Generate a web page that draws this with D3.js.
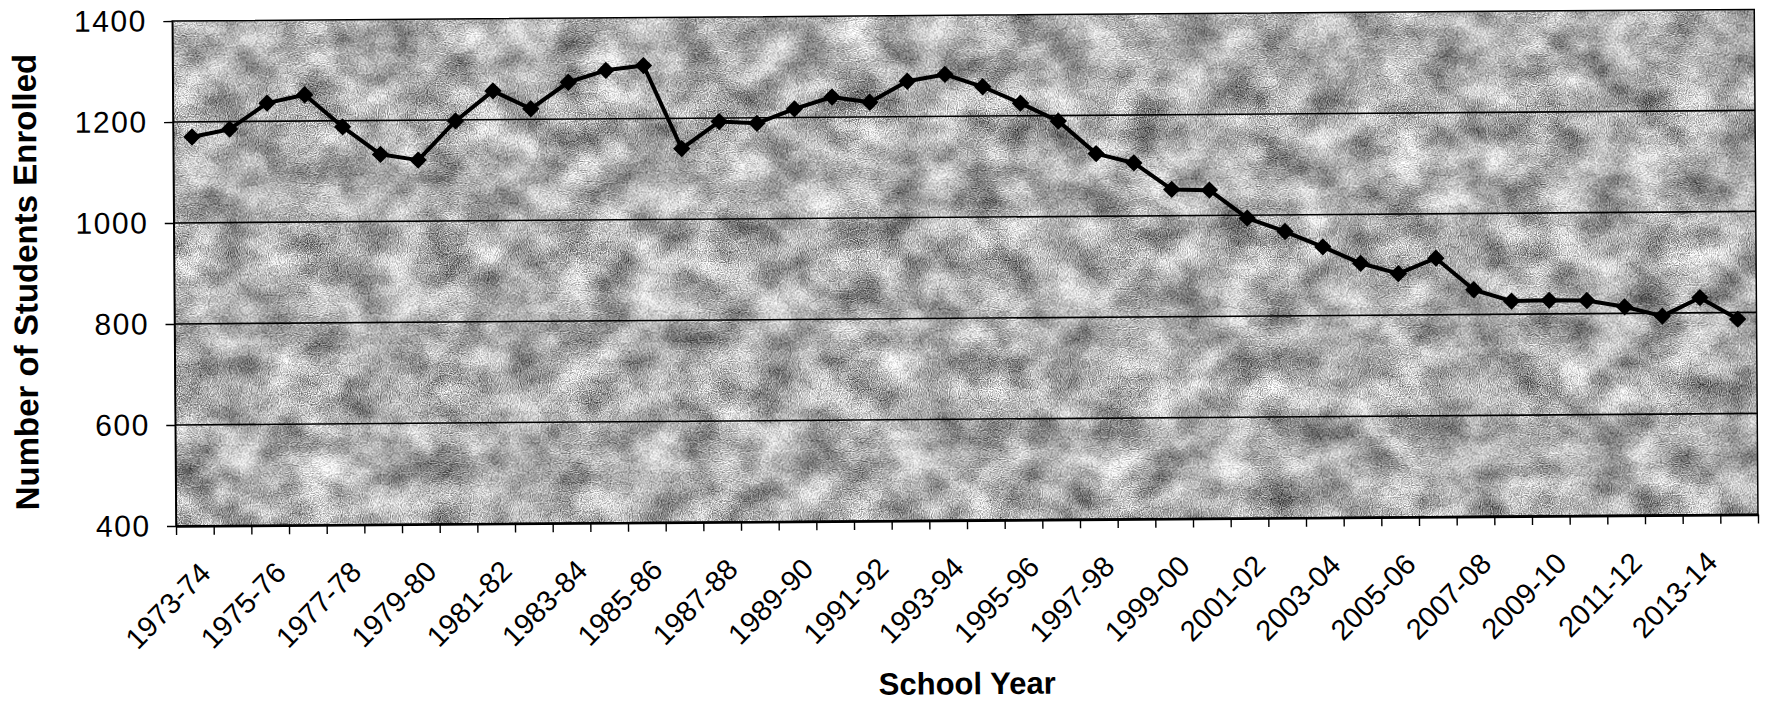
<!DOCTYPE html>
<meta charset="utf-8">
<style>
body {
  margin: 0;
  background-color: #fff;
}
svg { display: block; }

.axis text {
  font-family: "Liberation Sans", Arial, sans-serif;
  font-size: 29px;
  fill: #000;
}
.axis--y text {
  font-size: 30px;
  letter-spacing: 1.5px;
}
.axis path,
.axis line {
  fill: none;
  stroke: #000;
  stroke-width: 1.4px;
}
.axis--x .domain { stroke-width: 2.6px; }

.grid line {
  stroke: #000;
  stroke-width: 1.6px;
}

.line {
  fill: none;
  stroke: #000;
  stroke-width: 4px;
  stroke-linejoin: round;
}

.title {
  font-family: "Liberation Sans", Arial, sans-serif;
  font-weight: bold;
  fill: #000;
}
</style>
<body>
<svg width="1766" height="705"></svg>

<script src="https://cdnjs.cloudflare.com/ajax/libs/d3/7.8.5/d3.min.js"></script>
<script>

var schoolYears = ["1973-74","1974-75","1975-76","1976-77","1977-78","1978-79","1979-80",
  "1980-81","1981-82","1982-83","1983-84","1984-85","1985-86","1986-87","1987-88",
  "1988-89","1989-90","1990-91","1991-92","1992-93","1993-94","1994-95","1995-96",
  "1996-97","1997-98","1998-99","1999-00","2000-01","2001-02","2002-03","2003-04",
  "2004-05","2005-06","2006-07","2007-08","2008-09","2009-10","2010-11","2011-12",
  "2012-13","2013-14","2014-15"];

var enrolled = [1170, 1185, 1236, 1252, 1188, 1133, 1121, 1198, 1257, 1221,
  1273, 1296, 1305, 1140, 1193, 1189, 1217, 1240, 1229, 1270,
  1283, 1258, 1225, 1189, 1124, 1105, 1052, 1050, 994, 967,
  936, 903, 882, 912, 849, 826, 827, 826, 813, 794,
  830, 787];

var xLabels = ["1973-74","1975-76","1977-78","1979-80","1981-82","1983-84","1985-86",
  "1987-88","1989-90","1991-92","1993-94","1995-96","1997-98","1999-00","2001-02",
  "2003-04","2005-06","2007-08","2009-10","2011-12","2013-14"];

var yTicks = [400, 600, 800, 1000, 1200, 1400];
var gridTicks = [600, 800, 1000, 1200];

var margin = {top: 21, right: 8, bottom: 179, left: 176},
    width = 1766 - margin.left - margin.right,
    height = 705 - margin.top - margin.bottom;

var data = schoolYears.map(function(d, i) { return {year: d, value: enrolled[i]}; });

var x = d3.scaleBand().domain(schoolYears).range([0, width]);
var xEdge = d3.scaleLinear().domain([0, schoolYears.length]).range([0, width]);
var y = d3.scaleLinear().domain([400, 1400]).range([height, 0]);

var svg = d3.select("svg");

// scanned-paper look of the plot area
var defs = svg.append("defs");
var f = defs.append("filter")
  .attr("id", "mottle")
  .attr("x", 0).attr("y", 0).attr("width", 1).attr("height", 1)
  .attr("color-interpolation-filters", "sRGB");
f.append("feTurbulence")
  .attr("type", "fractalNoise")
  .attr("baseFrequency", "0.024 0.03")
  .attr("numOctaves", 4)
  .attr("seed", 7)
  .attr("result", "big");
f.append("feColorMatrix")
  .attr("in", "big")
  .attr("type", "matrix")
  .attr("values", "0.8 0 0 0 0.29  0.8 0 0 0 0.29  0.8 0 0 0 0.29  0 0 0 0 1")
  .attr("result", "patch");
f.append("feTurbulence")
  .attr("type", "fractalNoise")
  .attr("baseFrequency", "0.9")
  .attr("numOctaves", 1)
  .attr("seed", 3)
  .attr("result", "fine");
f.append("feColorMatrix")
  .attr("in", "fine")
  .attr("type", "matrix")
  .attr("values", "1 0 0 0 0  1 0 0 0 0  1 0 0 0 0  0 0 0 0 1")
  .attr("result", "fineg");
f.append("feComposite")
  .attr("in", "patch")
  .attr("in2", "fineg")
  .attr("operator", "arithmetic")
  .attr("k1", 0).attr("k2", 1).attr("k3", 1.3).attr("k4", -0.66);

// the scan is tilted a little, pivot on the bottom-left corner of the plot
var chart = svg.append("g")
  .attr("transform", "rotate(-0.42," + margin.left + "," + (margin.top + height) + ")");

var g = chart.append("g")
  .attr("transform", "translate(" + margin.left + "," + margin.top + ")");

g.append("rect")
  .attr("width", width)
  .attr("height", height)
  .attr("fill", "#aaa")
  .attr("filter", "url(#mottle)");

g.append("g")
  .attr("class", "grid")
  .selectAll("line")
  .data(gridTicks)
  .enter().append("line")
  .attr("x1", 0)
  .attr("x2", width)
  .attr("y1", function(d) { return y(d); })
  .attr("y2", function(d) { return y(d); });

g.append("rect")
  .attr("width", width)
  .attr("height", height)
  .attr("fill", "none")
  .attr("stroke", "#000")
  .attr("stroke-width", 1.5);

// y axis
g.append("g")
  .attr("class", "axis axis--y")
  .call(d3.axisLeft(y).tickValues(yTicks).tickFormat(d3.format("d"))
    .tickSize(9).tickPadding(16.5).tickSizeOuter(0));

// boundary tick marks along the bottom
g.append("g")
  .attr("class", "axis axis--x")
  .attr("transform", "translate(0," + height + ")")
  .call(d3.axisBottom(xEdge).tickValues(d3.range(schoolYears.length + 1))
    .tickSize(9).tickSizeOuter(0).tickFormat(""));

// rotated category labels
var gX = g.append("g")
  .attr("class", "axis axis--labels")
  .attr("transform", "translate(0," + height + ")")
  .call(d3.axisBottom(x).tickValues(xLabels).tickSize(0).tickSizeOuter(0));
gX.select(".domain").remove();
gX.selectAll(".tick text")
  .attr("x", 0)
  .attr("y", 0)
  .attr("dy", "0.35em")
  .attr("transform", "translate(10,42) rotate(-45)")
  .style("text-anchor", "end");

// series
var line = d3.line()
  .x(function(d) { return x(d.year) + x.bandwidth() / 2; })
  .y(function(d) { return y(d.value); });

g.append("path")
  .datum(data)
  .attr("class", "line")
  .attr("d", line);

g.selectAll(".dot")
  .data(data)
  .enter().append("path")
  .attr("class", "dot")
  .attr("d", d3.symbol(d3.symbolSquare, 150))
  .attr("fill", "#000")
  .attr("transform", function(d) {
    return "translate(" + (x(d.year) + x.bandwidth() / 2) + "," + y(d.value) + ") rotate(45)";
  });

// axis titles
chart.append("text")
  .attr("class", "title")
  .style("font-size", "33px")
  .attr("transform", "translate(39,281) rotate(-90)")
  .style("text-anchor", "middle")
  .text("Number of Students Enrolled");

chart.append("text")
  .attr("class", "title")
  .style("font-size", "31px")
  .attr("x", 966)
  .attr("y", 700)
  .style("text-anchor", "middle")
  .text("School Year");

</script>
</body>
